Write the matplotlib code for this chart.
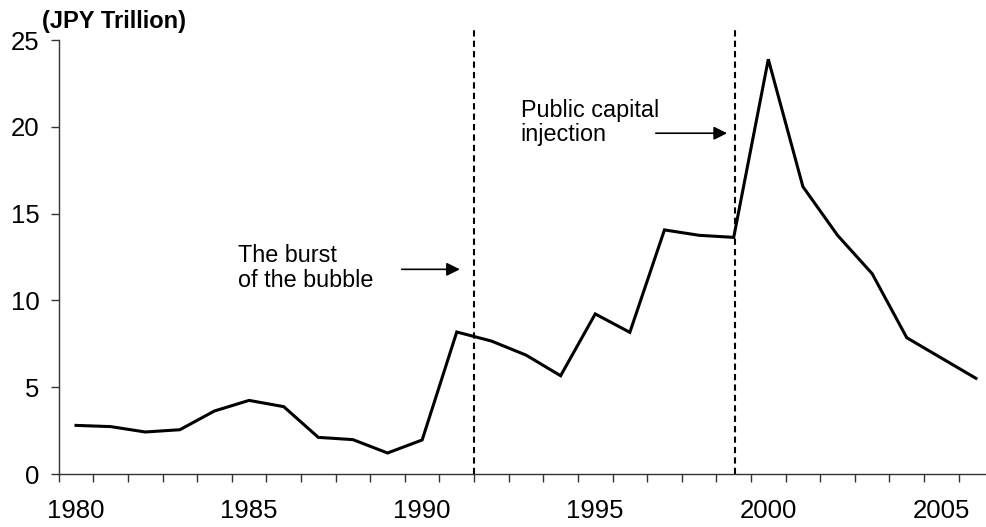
import matplotlib
matplotlib.use("Agg")
import matplotlib.pyplot as plt
import numpy as np

years = list(range(1980, 2007))
values = [2.80, 2.73, 2.42, 2.55, 3.63, 4.24, 3.88, 2.11, 1.98, 1.21, 1.96,
          8.18, 7.66, 6.85, 5.66, 9.22, 8.16, 14.06, 13.75, 13.63, 23.89,
          16.55, 13.75, 11.54, 7.85, 6.68, 5.51]
label_years = [1980, 1985, 1990, 1995, 2000, 2005]
yticks = [0, 5, 10, 15, 20, 25]
event_positions = [11.5, 19.05]
unit_label = "(JPY Trillion)"
note1 = "The burst\nof the bubble"
note2 = "Public capital\ninjection"

plt.rcParams['font.family'] = ['Liberation Sans', 'DejaVu Sans']

fig = plt.figure(figsize=(9.87, 5.27), dpi=100)
ax = fig.add_axes([58.7/987, 53/527, 934.6/987, 434/527])

x = np.arange(len(years))
ax.plot(x, values, color='black', lw=2.2, solid_joinstyle='miter')

ax.set_xlim(-0.5, len(years) - 0.5)
ax.set_ylim(0, 25)

for s in ['top', 'right']:
    ax.spines[s].set_visible(False)
for s in ['left', 'bottom']:
    ax.spines[s].set_color('#333333')
    ax.spines[s].set_linewidth(1.0)

ax.set_yticks(yticks)
ax.set_yticklabels([str(v) for v in yticks])
ax.tick_params(axis='y', direction='out', length=6, width=1, color='#333333',
               labelsize=18.5, pad=8)

ax.set_xticks(np.arange(-0.5, len(years) + 0.5, 1.0))
ax.set_xticklabels([])
ax.tick_params(axis='x', which='major', direction='out', length=5.5, width=1,
               color='#333333')
ax.set_xticks([years.index(y) for y in label_years], minor=True)
ax.set_xticklabels([str(y) for y in label_years], minor=True)
ax.tick_params(axis='x', which='minor', length=0, labelsize=18.5, pad=18)

for pos in event_positions:
    ax.plot([pos, pos], [0, 25.63], color='black', lw=1.5,
            linestyle=(0, (3, 2)), clip_on=False)

ax.text(41.7/987, 1 - 21.7/527, unit_label, transform=fig.transFigure,
        ha='left', va='center', fontsize=17, fontweight='bold')

ax.text(4.68, 11.87, note1, ha='left', va='center', fontsize=16.8,
        linespacing=1.1)
ax.annotate('', xy=(11.09, 11.79), xytext=(9.41, 11.79),
            arrowprops=dict(arrowstyle='-|>', color='black', lw=1.2,
                            mutation_scale=20, shrinkA=0, shrinkB=0))

ax.text(12.85, 20.25, note2, ha='left', va='center', fontsize=16.8,
        linespacing=1.1)
ax.annotate('', xy=(18.81, 19.63), xytext=(16.75, 19.63),
            arrowprops=dict(arrowstyle='-|>', color='black', lw=1.2,
                            mutation_scale=20, shrinkA=0, shrinkB=0))

fig.savefig('out.png', dpi=100)
